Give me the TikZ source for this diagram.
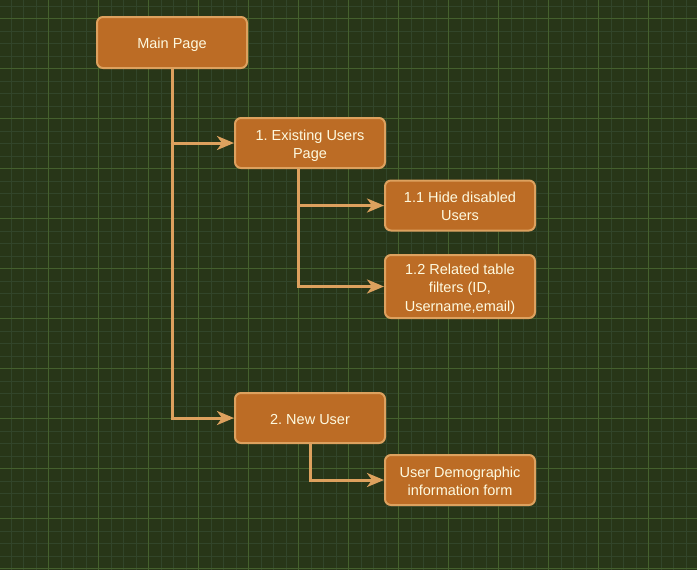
\documentclass[tikz,border=0pt]{standalone}
\usepackage{fontspec}
\setmainfont{Liberation Sans}
\usetikzlibrary{arrows.meta}
\definecolor{bgc}{HTML}{283618}
\definecolor{minorc}{HTML}{32452A}
\definecolor{majorc}{HTML}{45602D}
\definecolor{boxfill}{HTML}{BC6C25}
\definecolor{boxline}{HTML}{DDA15E}
\definecolor{txtc}{HTML}{FEFAE0}
\newcommand\mytopstrut{\rule{0pt}{15.9pt}}
\newcommand\mybotstrut{\rule[-3.5pt]{0pt}{3.5pt}}
\tikzset{
  box/.style={draw=boxline, fill=boxfill, line width=2pt, rounded corners=6pt,
    minimum width=150pt, text=txtc, align=center, inner sep=0pt,
    font=\fontsize{14.5}{18.3}\selectfont},
  conn/.style={draw=boxline, line width=3pt, -{Stealth[length=17pt,width=14pt,inset=5pt]}},
}
\frenchspacing
\begin{document}
\begin{tikzpicture}[x=1pt,y=-1pt]
\fill[bgc] (0,0) rectangle (697,570);
\useasboundingbox (0,0) rectangle (697,570);
\foreach \i in {0,...,56} {
  \draw[minorc, line width=0.6pt] ({11+12.5*\i},0) -- ({11+12.5*\i},570);
}
\foreach \i in {0,...,45} {
  \draw[minorc, line width=0.6pt] (0,{5.8+12.5*\i}) -- (697,{5.8+12.5*\i});
}
\foreach \i in {0,...,13} {
  \draw[majorc, line width=0.8pt] ({48.5+50*\i},0) -- ({48.5+50*\i},570);
}
\foreach \i in {0,...,11} {
  \draw[majorc, line width=0.8pt] (0,{18.3+50*\i}) -- (697,{18.3+50*\i});
}
\node[box, minimum height=51pt] (main) at (172,42.5) {\mytopstrut Main Page\mybotstrut};
\node[box, minimum height=50pt] (eu) at (310,143) {\mytopstrut 1. Existing Users\\Page\mybotstrut};
\node[box, minimum height=50pt] (h11) at (460,205.5) {\mytopstrut 1.1 Hide disabled\\Users\mybotstrut};
\node[box, minimum height=63pt] (r12) at (460,286.5) {\mytopstrut 1.2 Related table\\filters (ID,\\Username,email)\mybotstrut};
\node[box, minimum height=50pt] (nu) at (310,418) {\mytopstrut 2. New User\mybotstrut};
\node[box, minimum height=50pt] (ud) at (460,480) {\mytopstrut User Demographic\\information form\mybotstrut};
\coordinate (eus) at ([xshift=-12pt]eu.south);
\draw[conn] (main.south) |- (eu.west);
\draw[conn] (main.south) |- (nu.west);
\draw[conn] (eus) |- (h11.west);
\draw[conn] (eus) |- (r12.west);
\draw[conn] (nu.south) |- (ud.west);
\end{tikzpicture}
\end{document}
